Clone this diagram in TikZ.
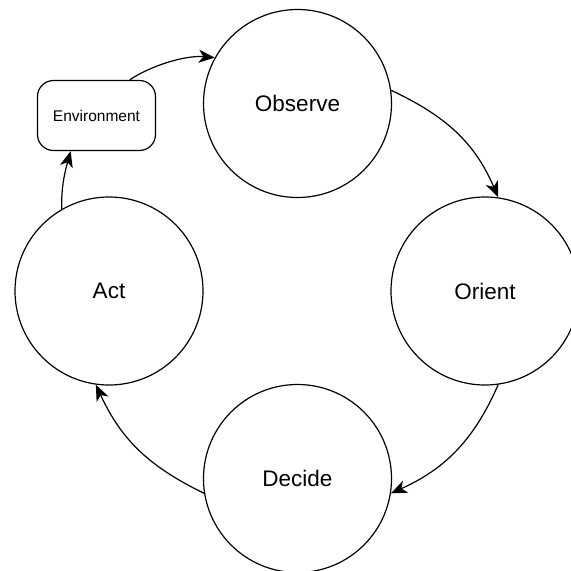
\documentclass[tikz,border=0pt]{standalone}
\usepackage{fontspec}
\setmainfont{Liberation Sans}
\usetikzlibrary{arrows.meta}
\begin{document}
\begin{tikzpicture}[x=1pt,y=-1pt,
  phase/.style={circle,draw,line width=1.2pt,minimum size=188pt,inner sep=0pt,font=\fontsize{22.5}{26}\selectfont},
  envbox/.style={rectangle,draw,rounded corners=16pt,line width=1.2pt,minimum width=118pt,minimum height=70pt,inner sep=0pt,font=\fontsize{15.5}{18}\selectfont},
  flow/.style={line width=1.2pt,-{Stealth[length=16pt,width=13pt,inset=4.5pt]}}]
\useasboundingbox (0,0) rectangle (571,571);
\clip (0,0) rectangle (571,571);
\node[phase] (obs) at (297.5,103.5) {Observe};
\node[phase] (ori) at (485,291) {Orient};
\node[phase] (dec) at (297.5,478.5) {Decide};
\node[phase] (act) at (109,291) {Act};
\node[envbox] (env) at (96.5,115.5) {Environment};
\draw[flow] (env.47) .. controls (150,66) and (185,55) .. (obs.151);
\draw[flow] (obs.8) .. controls (446,116) and (475,143) .. (ori.82);
\draw[flow] (ori.-82) .. controls (474,440) and (445,469) .. (dec.-9);
\draw[flow] (dec.189) .. controls (148,466) and (121,439) .. (act.-98);
\draw[flow] (act.120) .. controls (61,185) and (66,168) .. (env.234);
\end{tikzpicture}
\end{document}
